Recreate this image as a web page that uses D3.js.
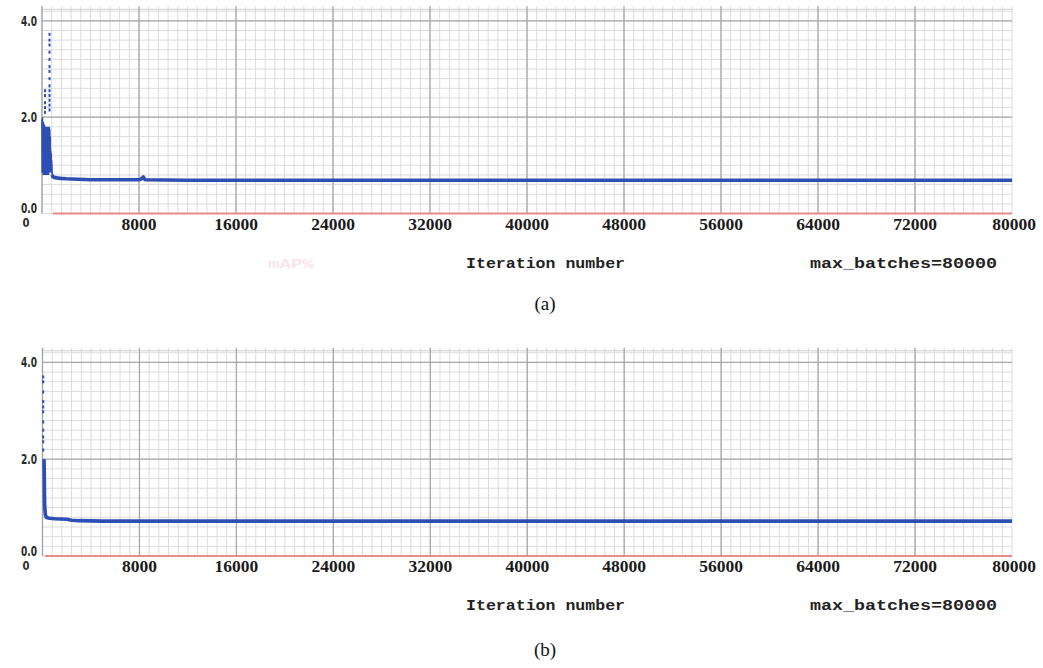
<!DOCTYPE html>
<html>
<head>
<meta charset="utf-8">
<script src="https://cdn.jsdelivr.net/npm/d3@7"></script>
<style>
  html, body { margin: 0; padding: 0; background: #fff; }
  svg { display: block; }
</style>
</head>
<body>
<svg id="chart" width="1043" height="668"></svg>
<script>
// ---------------- DATA ----------------
const xTickValues = [8000, 16000, 24000, 32000, 40000, 48000, 56000, 64000, 72000, 80000];
const xTickLabels = ["8000", "16000", "24000", "32000", "40000", "48000", "56000", "64000", "72000", "80000"];
const yTickValues = [0.0, 2.0, 4.0];
const yTickLabels = ["0.0", "2.0", "4.0"];
const xAxisTitle = "Iteration number";
const maxBatchesLabel = "max_batches=80000";
const captions = ["(a)", "(b)"];

// Panel (a): early noisy loss (iterations / values)
const spikeItersA = [0, 20, 40, 60, 80, 100, 120, 140, 160, 180, 200, 220, 240, 260, 280, 300, 320, 340, 360, 380,
  400, 420, 440, 460, 480, 500, 520, 540, 560, 580, 600, 620, 640, 660, 680, 700, 720, 740, 760, 780, 800, 820, 840];
const spikeLossA = [1.95, 0.85, 2.0, 0.9, 1.8, 0.8, 1.9, 0.95, 1.75, 0.8, 1.85, 0.9, 1.7, 0.85, 1.8, 0.8, 1.75, 0.9, 1.65, 0.85,
  1.8, 0.8, 1.7, 0.9, 1.75, 0.85, 1.8, 0.8, 1.7, 0.95, 1.8, 0.85, 1.75, 0.9, 1.6, 0.85, 1.3, 0.9, 1.25, 0.85, 1.1, 0.95, 0.8];
// Panel (a): loss after the drop
const lossItersA = [840, 900, 1000, 1200, 1500, 2000, 3000, 4000, 6000, 8000, 8200, 8350, 8500, 12000, 20000, 24000, 40000, 60000, 80000];
const lossValsA  = [0.8, 0.76, 0.75, 0.74, 0.73, 0.72, 0.71, 0.70, 0.70, 0.70, 0.72, 0.76, 0.70, 0.69, 0.69, 0.69, 0.69, 0.69, 0.69];
// Panel (a): isolated high points
const dotItersA = [620, 620, 620, 620, 620, 620, 620, 620, 620, 620, 620, 620, 620, 620, 250, 250, 250, 250, 250];
const dotLossA  = [3.72, 3.6, 3.5, 3.35, 3.2, 3.05, 2.95, 2.8, 2.65, 2.55, 2.45, 2.35, 2.25, 2.15, 2.55, 2.45, 2.3, 2.2, 2.1];
// Panel (a): mAP series (red)
const mapItersA = [900, 80000];
const mapValsA  = [0, 0];

// Panel (b)
const lossItersB = [130, 140, 150, 160, 170, 180, 200, 240, 300, 400, 600, 1000, 2000, 2400, 3000, 5000, 20000, 40000, 60000, 80000];
const lossValsB  = [2.0, 1.8, 1.6, 1.4, 1.2, 1.05, 0.95, 0.85, 0.8, 0.79, 0.78, 0.77, 0.76, 0.74, 0.73, 0.72, 0.72, 0.72, 0.72, 0.72];
const dotItersB = [60, 60, 60, 60, 60, 60, 60, 60, 60, 60, 60];
const dotLossB  = [3.70, 3.60, 3.39, 3.19, 3.08, 2.98, 2.77, 2.60, 2.46, 2.36, 2.19];
const mapItersB = [200, 80000];
const mapValsB  = [0, 0];

// ---------------- DRAW ----------------
const svg = d3.select("#chart");
svg.append("rect").attr("width", 1043).attr("height", 668).attr("fill", "#fff");

const BLUE = "#2d4fb3";
const RED = "#e88a8a";

function drawPanel(cfg) {
  const x = d3.scaleLinear().domain([0, 80000]).range([cfg.left, cfg.right]);
  const y = d3.scaleLinear().domain([0, 4.24]).range([cfg.bottom, cfg.top]);
  const g = svg.append("g");

  // minor grid
  const minorX = d3.range(0, 80001, 800);
  const minorY = d3.range(0, 4.21, 0.2);
  g.selectAll(".mx").data(minorX).join("line")
    .attr("x1", d => x(d)).attr("x2", d => x(d))
    .attr("y1", y(0)).attr("y2", y(4.24) - 3)
    .attr("stroke", "#dcdcdc").attr("stroke-width", 1);
  g.selectAll(".my").data(minorY).join("line")
    .attr("x1", x(0)).attr("x2", x(80000))
    .attr("y1", d => y(d)).attr("y2", d => y(d))
    .attr("stroke", "#dcdcdc").attr("stroke-width", 1);
  // top border
  g.append("line").attr("x1", x(0)).attr("x2", x(80000))
    .attr("y1", y(4.24)).attr("y2", y(4.24)).attr("stroke", "#cfcfcf");
  // major grid
  g.selectAll(".Mx").data(xTickValues.filter(v => v < 80000)).join("line")
    .attr("x1", d => x(d)).attr("x2", d => x(d))
    .attr("y1", y(0)).attr("y2", y(4.24) - 3)
    .attr("stroke", "#a8a8a8").attr("stroke-width", 1.3);
  g.selectAll(".My").data([2.0, 4.0]).join("line")
    .attr("x1", x(0)).attr("x2", x(80000))
    .attr("y1", d => y(d)).attr("y2", d => y(d))
    .attr("stroke", "#a8a8a8").attr("stroke-width", 1.3);
  // left axis
  g.append("line").attr("x1", x(0)).attr("x2", x(0))
    .attr("y1", y(0)).attr("y2", y(4.24) - 3).attr("stroke", "#a0a0a0").attr("stroke-width", 1.3);

  // red mAP line
  const line = d3.line().x(d => x(d[0])).y(d => y(d[1]));
  g.append("path").datum(d3.zip(cfg.mapIters, cfg.mapVals))
    .attr("d", line).attr("fill", "none").attr("stroke", RED).attr("stroke-width", 2.2);

  // spike (thin)
  if (cfg.spikeIters) {
    g.append("path").datum(d3.zip(cfg.spikeIters, cfg.spikeLoss))
      .attr("d", line).attr("fill", "none").attr("stroke", BLUE).attr("stroke-width", 1.6);
  }
  // main loss
  g.append("path").datum(d3.zip(cfg.lossIters, cfg.lossVals))
    .attr("d", line).attr("fill", "none").attr("stroke", BLUE).attr("stroke-width", cfg.lineW)
    .attr("stroke-linejoin", "round");
  // thin head of the curve
  if (cfg.headW) {
    g.append("path").datum(d3.zip(cfg.lossIters.slice(0, 8), cfg.lossVals.slice(0, 8)))
      .attr("d", line).attr("fill", "none").attr("stroke", BLUE).attr("stroke-width", cfg.headW);
  }
  // isolated points
  g.selectAll(".dot").data(d3.zip(cfg.dotIters, cfg.dotLoss)).join("rect")
    .attr("x", d => x(d[0]) - 1).attr("y", d => y(d[1]) - 1.5)
    .attr("width", 2).attr("height", 3).attr("fill", BLUE);

  // y tick labels
  g.selectAll(".yl").data(yTickValues).join("text")
    .attr("x", 37).attr("y", (d, i) => y(d) + (i === 0 ? -0.5 : 5))
    .attr("text-anchor", "end")
    .attr("font-family", "DejaVu Sans").attr("font-weight", "bold").attr("font-size", 14)
    .attr("textLength", 16).attr("lengthAdjust", "spacingAndGlyphs")
    .attr("fill", "#2a2a2a")
    .text((d, i) => yTickLabels[i]);
  g.append("text").attr("x", 26).attr("y", y(0) + 13.5)
    .attr("text-anchor", "middle")
    .attr("font-family", "DejaVu Sans").attr("font-weight", "bold").attr("font-size", 12)
    .attr("textLength", 7).attr("lengthAdjust", "spacingAndGlyphs")
    .attr("fill", "#2a2a2a").text("0");

  // x tick labels
  g.selectAll(".xl").data(xTickValues).join("text")
    .attr("x", d => d === 80000 ? 1036 : x(d)).attr("y", y(0) + 16)
    .attr("text-anchor", d => d === 80000 ? "end" : "middle")
    .attr("font-family", "Liberation Serif").attr("font-weight", "bold").attr("font-size", 17.5)
    .attr("fill", "#1a1a1a")
    .text((d, i) => xTickLabels[i]);

  // bottom labels
  g.append("text").attr("x", 466).attr("y", cfg.labelY)
    .attr("font-family", "Liberation Mono").attr("font-weight", "bold").attr("font-size", 14)
    .attr("textLength", 159).attr("lengthAdjust", "spacingAndGlyphs")
    .attr("fill", "#222").text(xAxisTitle);
  g.append("text").attr("x", 810).attr("y", cfg.labelY)
    .attr("font-family", "Liberation Mono").attr("font-weight", "bold").attr("font-size", 14)
    .attr("textLength", 187).attr("lengthAdjust", "spacingAndGlyphs")
    .attr("fill", "#222").text(maxBatchesLabel);

  if (cfg.ghost) {
    g.append("text").attr("x", 268).attr("y", cfg.labelY)
      .attr("font-family", "Liberation Mono").attr("font-weight", "bold").attr("font-size", 13)
      .attr("textLength", 46).attr("lengthAdjust", "spacingAndGlyphs")
      .attr("fill", "#fae4ea").text(cfg.ghost);
  }

  // caption
  svg.append("text").attr("x", 545).attr("y", cfg.captionY)
    .attr("text-anchor", "middle")
    .attr("font-family", "Liberation Serif").attr("font-size", 19)
    .attr("fill", "#111").text(cfg.caption);
}

drawPanel({
  left: 42, right: 1012, bottom: 213.5, top: 9.3,
  spikeIters: spikeItersA, spikeLoss: spikeLossA,
  lossIters: lossItersA, lossVals: lossValsA, lineW: 3.6,
  dotIters: dotItersA, dotLoss: dotLossA,
  mapIters: mapItersA, mapVals: mapValsA,
  labelY: 268, captionY: 310, caption: captions[0], ghost: "mAP%"
});
drawPanel({
  left: 42.5, right: 1012, bottom: 556, top: 350.8,
  lossIters: lossItersB, lossVals: lossValsB, lineW: 3.6, headW: 1.6,
  dotIters: dotItersB, dotLoss: dotLossB,
  mapIters: mapItersB, mapVals: mapValsB,
  labelY: 610, captionY: 656, caption: captions[1]
});
</script>
</body>
</html>
